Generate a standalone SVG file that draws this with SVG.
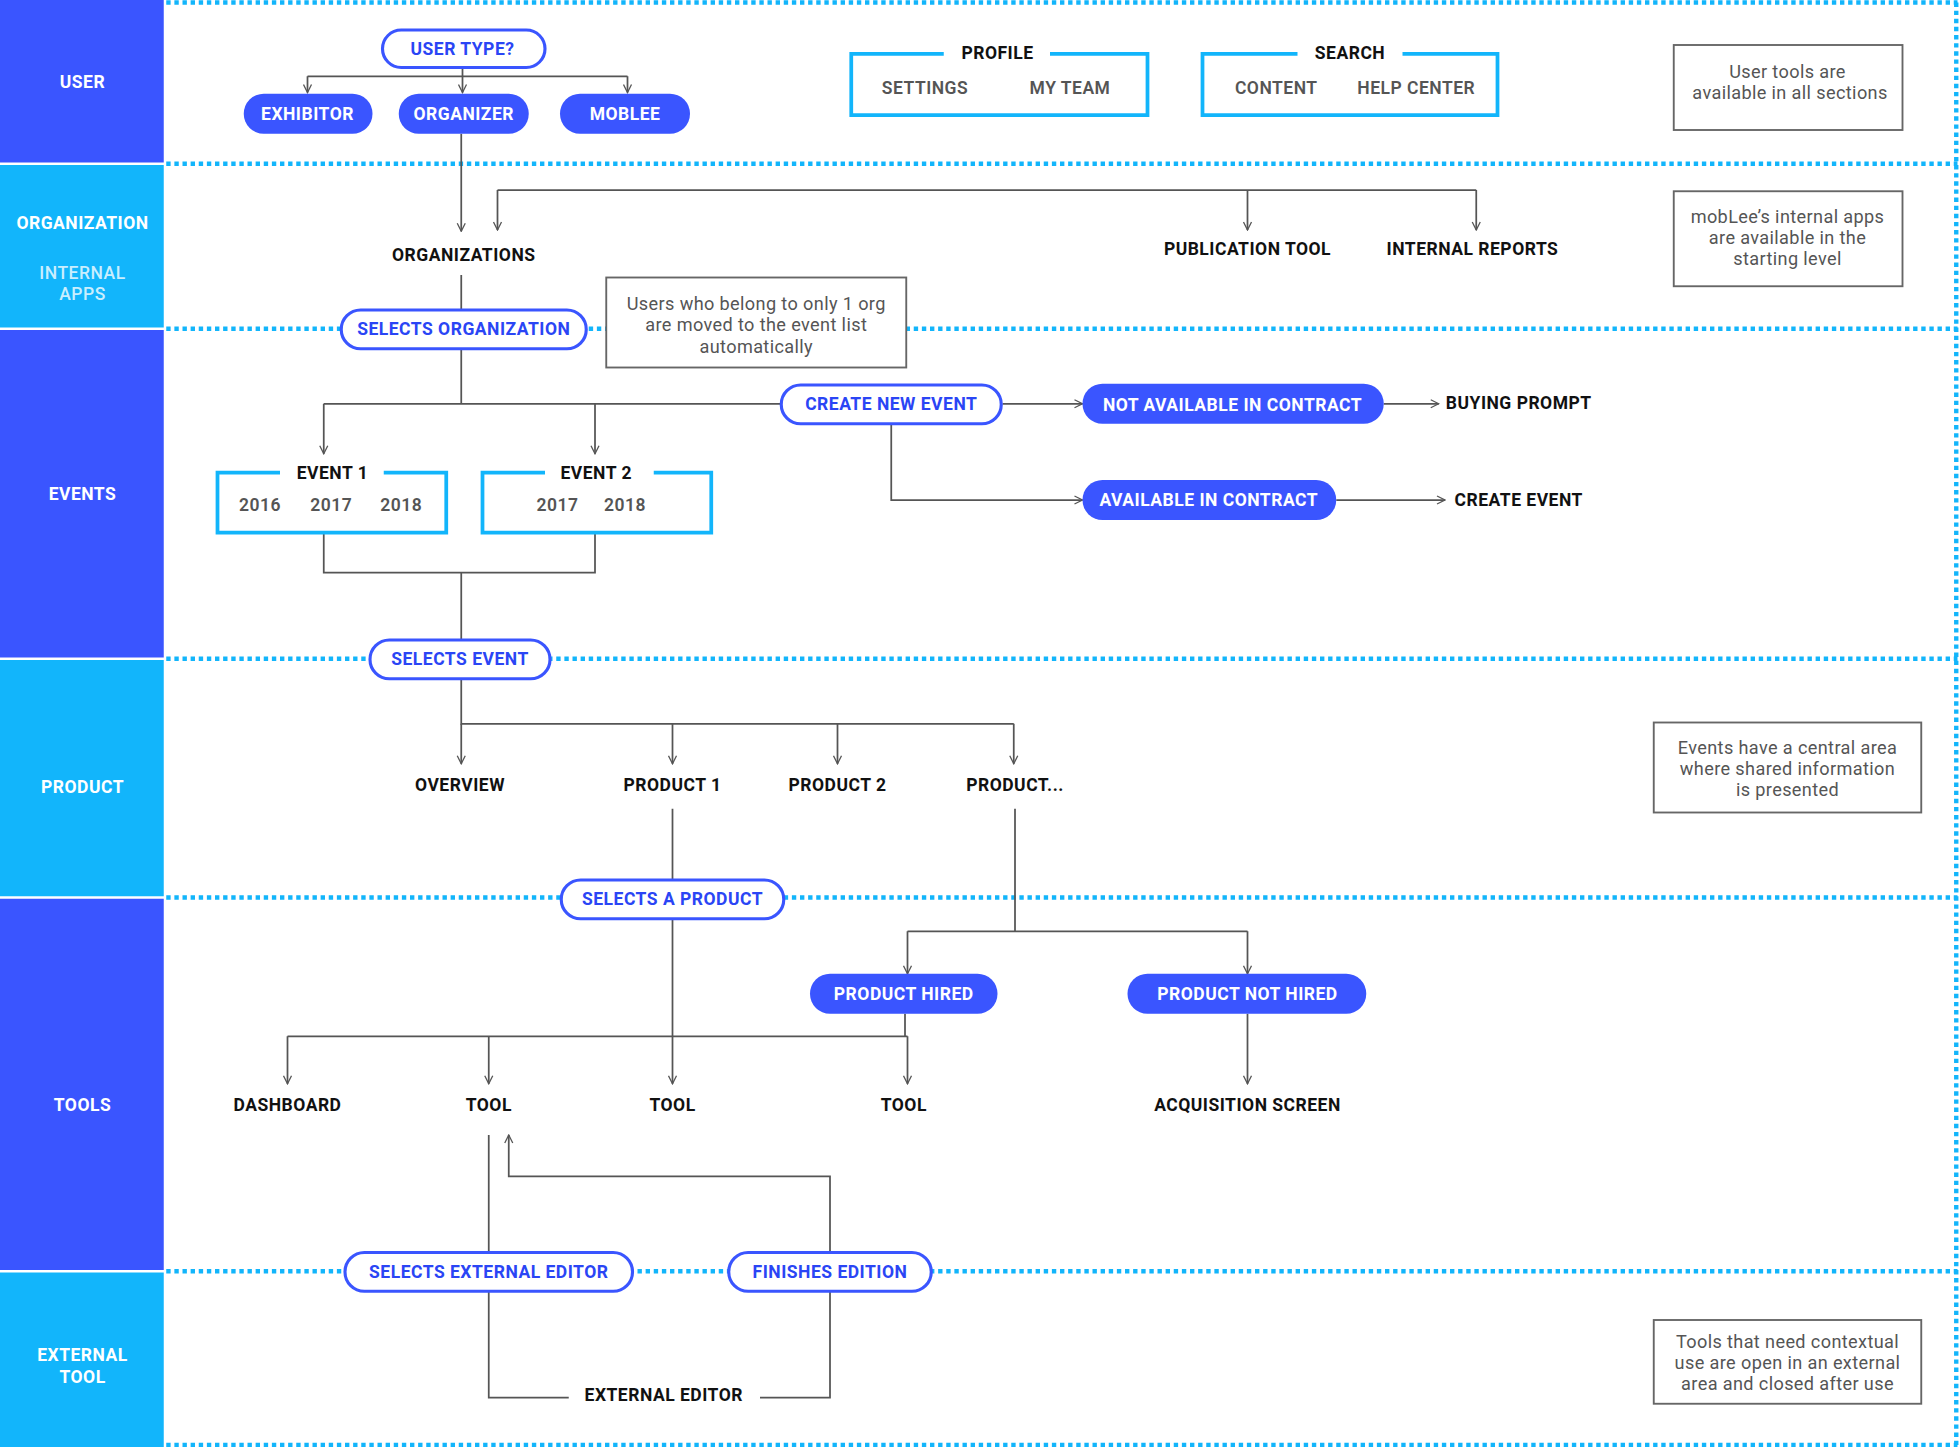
<svg xmlns="http://www.w3.org/2000/svg" width="1960" height="1447" viewBox="0 0 1960 1447">
<style>
text{font-family:"Roboto","Liberation Sans",sans-serif;font-weight:700;font-size:14px;text-anchor:middle;letter-spacing:0.4px}
.lt{fill:#fff}
.sub{fill:#c9eefe;font-weight:500}
.dot{stroke:#12b5fb;stroke-width:3.5;stroke-dasharray:3.5 3;fill:none}
.c{stroke:#555;stroke-width:1.4;fill:none}
.ca{stroke:#555;stroke-width:1.4;fill:none;marker-end:url(#ar)}
.po{fill:#fff;stroke:#3a55ff;stroke-width:2.5}
.pf{fill:#3a55ff}
.tb{fill:#2a45f5}
.tw{fill:#fff}
.tk{fill:#111}
.tg{fill:#555;font-weight:600}
.box{fill:none;stroke:#12b5fb;stroke-width:3}
.note{fill:#fff;stroke:#666;stroke-width:1.5}
.nt{fill:#555;font-weight:400;font-size:14.5px;letter-spacing:0.3px}
</style>
<defs>
<marker id="ar" viewBox="0 0 10 10" refX="9" refY="5" markerWidth="8" markerHeight="8" orient="auto" markerUnits="userSpaceOnUse">
<path d="M1,1 L9,5 L1,9" fill="none" stroke="#555" stroke-width="1.3"/>
</marker>
</defs>
<rect width="1960" height="1447" fill="#fff"/>
<g transform="scale(1.25)">
<g id="lanes">
<rect x="0" y="0" width="131" height="130" fill="#3a55ff"/>
<rect x="0" y="132" width="131" height="130" fill="#12b5fb"/>
<rect x="0" y="264" width="131" height="262" fill="#3a55ff"/>
<rect x="0" y="528" width="131" height="189" fill="#12b5fb"/>
<rect x="0" y="719" width="131" height="297" fill="#3a55ff"/>
<rect x="0" y="1018" width="131" height="140" fill="#12b5fb"/>
<text x="66" y="70" class="lt">USER</text>
<text x="66" y="183" class="lt">ORGANIZATION</text>
<text x="66" y="223" class="sub">INTERNAL</text>
<text x="66" y="240" class="sub">APPS</text>
<text x="66" y="400" class="lt">EVENTS</text>
<text x="66" y="634" class="lt">PRODUCT</text>
<text x="66" y="889" class="lt">TOOLS</text>
<text x="66" y="1089" class="lt">EXTERNAL</text>
<text x="66" y="1106" class="lt">TOOL</text>
<path class="dot" d="M133,2H1566M133,131H1566M133,263H1566M133,527H1566M133,718H1566M133,1017H1566M133,1156H1566M1565,2V1158"/>
</g>
<g id="connectors">
<path class="c" d="M370,54V61M246,61H502"/>
<path class="ca" d="M246,61V74"/><path class="ca" d="M370,61V74"/><path class="ca" d="M502,61V74"/>
<path class="ca" d="M369,107V185"/>
<path class="c" d="M398,152H1181"/>
<path class="ca" d="M398,152V184"/><path class="ca" d="M998,152V184"/><path class="ca" d="M1181,152V184"/>
<path class="c" d="M369,220V248M369,279V323M259,323H625"/>
<path class="ca" d="M259,323V363"/><path class="ca" d="M476,323V363"/>
<path class="ca" d="M802,323H866"/><path class="ca" d="M1107,323H1151"/>
<path class="ca" d="M713,339V400H866"/><path class="ca" d="M1069,400H1156"/>
<path class="c" d="M259,426V458H476V426M369,458V512M369,543V579H811"/>
<path class="ca" d="M369,579V611"/><path class="ca" d="M538,579V611"/><path class="ca" d="M670,579V611"/><path class="ca" d="M811,579V611"/>
<path class="c" d="M538,647V704"/>
<path class="ca" d="M538,735V867"/>
<path class="c" d="M812,647V745M726,745H998"/>
<path class="ca" d="M726,745V779"/><path class="ca" d="M998,745V779"/>
<path class="c" d="M724,811V829M230,829H726"/>
<path class="ca" d="M230,829V867"/><path class="ca" d="M391,829V867"/><path class="ca" d="M726,829V867"/>
<path class="ca" d="M998,811V867"/>
<path class="c" d="M391,908V1002M391,1033V1118H455M608,1118H664V1033"/>
<path class="ca" d="M664,1002V941H407V908"/>
</g>
<g id="n-usertype"><rect class="po" x="306" y="24" width="130" height="30" rx="15"/><text x="370" y="44" class="tb">USER TYPE?</text></g>
<g id="n-exhibitor"><rect class="pf" x="195" y="75" width="103" height="32" rx="16"/><text x="246" y="96" class="tw">EXHIBITOR</text></g>
<g id="n-organizer"><rect class="pf" x="319" y="75" width="104" height="32" rx="16"/><text x="371" y="96" class="tw">ORGANIZER</text></g>
<g id="n-moblee"><rect class="pf" x="448" y="75" width="104" height="32" rx="16"/><text x="500" y="96" class="tw">MOBLEE</text></g>
<g id="n-profile"><path class="box" d="M755,43H681V92H918V43H840"/><text x="798" y="47" class="tk">PROFILE</text><text x="740" y="75" class="tg">SETTINGS</text><text x="856" y="75" class="tg">MY TEAM</text></g>
<g id="n-search"><path class="box" d="M1038,43H962V92H1198V43H1122"/><text x="1080" y="47" class="tk">SEARCH</text><text x="1021" y="75" class="tg">CONTENT</text><text x="1133" y="75" class="tg">HELP CENTER</text></g>
<g id="n-note1"><rect class="note" x="1339" y="36" width="183" height="68"/><text x="1430" y="62" class="nt">User tools are</text><text x="1432" y="79" class="nt">available in all sections</text></g>
<g id="n-organizations"><text x="371" y="209" class="tk">ORGANIZATIONS</text></g>
<g id="n-pubtool"><text x="998" y="204" class="tk">PUBLICATION TOOL</text></g>
<g id="n-intreports"><text x="1178" y="204" class="tk">INTERNAL REPORTS</text></g>
<g id="n-note2"><rect class="note" x="1339" y="153" width="183" height="76"/><text x="1430" y="178" class="nt">mobLee’s internal apps</text><text x="1430" y="195" class="nt">are available in the</text><text x="1430" y="212" class="nt">starting level</text></g>
<g id="n-selorg"><rect class="po" x="273" y="248" width="196" height="31" rx="15.5"/><text x="371" y="268" class="tb">SELECTS ORGANIZATION</text></g>
<g id="n-note3"><rect class="note" x="485" y="222" width="240" height="72"/><text x="605" y="248" class="nt">Users who belong to only 1 org</text><text x="605" y="265" class="nt">are moved to the event list</text><text x="605" y="282" class="nt">automatically</text></g>
<g id="n-createnew"><rect class="po" x="625" y="308" width="176" height="31" rx="15.5"/><text x="713" y="328" class="tb">CREATE NEW EVENT</text></g>
<g id="n-notavail"><rect class="pf" x="866" y="307" width="241" height="32" rx="16"/><text x="986" y="329" class="tw">NOT AVAILABLE IN CONTRACT</text></g>
<g id="n-buying"><text x="1215" y="327" class="tk">BUYING PROMPT</text></g>
<g id="n-avail"><rect class="pf" x="866" y="384" width="203" height="32" rx="16"/><text x="967" y="405" class="tw">AVAILABLE IN CONTRACT</text></g>
<g id="n-createevent"><text x="1215" y="405" class="tk">CREATE EVENT</text></g>
<g id="n-event1"><path class="box" d="M224,378H174V426H357V378H307"/><text x="266" y="383" class="tk">EVENT 1</text><text x="208" y="409" class="tg">2016</text><text x="265" y="409" class="tg">2017</text><text x="321" y="409" class="tg">2018</text></g>
<g id="n-event2"><path class="box" d="M436,378H386V426H569V378H523"/><text x="477" y="383" class="tk">EVENT 2</text><text x="446" y="409" class="tg">2017</text><text x="500" y="409" class="tg">2018</text></g>
<g id="n-selevent"><rect class="po" x="296" y="512" width="144" height="31" rx="15.5"/><text x="368" y="532" class="tb">SELECTS EVENT</text></g>
<g id="n-overview"><text x="368" y="633" class="tk">OVERVIEW</text></g>
<g id="n-product1"><text x="538" y="633" class="tk">PRODUCT 1</text></g>
<g id="n-product2"><text x="670" y="633" class="tk">PRODUCT 2</text></g>
<g id="n-productx"><text x="812" y="633" class="tk">PRODUCT...</text></g>
<g id="n-note4"><rect class="note" x="1323" y="578" width="214" height="72"/><text x="1430" y="603" class="nt">Events have a central area</text><text x="1430" y="620" class="nt">where shared information</text><text x="1430" y="637" class="nt">is presented</text></g>
<g id="n-selproduct"><rect class="po" x="449" y="704" width="178" height="31" rx="15.5"/><text x="538" y="724" class="tb">SELECTS A PRODUCT</text></g>
<g id="n-hired"><rect class="pf" x="648" y="779" width="150" height="32" rx="16"/><text x="723" y="800" class="tw">PRODUCT HIRED</text></g>
<g id="n-nothired"><rect class="pf" x="902" y="779" width="191" height="32" rx="16"/><text x="998" y="800" class="tw">PRODUCT NOT HIRED</text></g>
<g id="n-dashboard"><text x="230" y="889" class="tk">DASHBOARD</text></g>
<g id="n-tool1"><text x="391" y="889" class="tk">TOOL</text></g>
<g id="n-tool2"><text x="538" y="889" class="tk">TOOL</text></g>
<g id="n-tool3"><text x="723" y="889" class="tk">TOOL</text></g>
<g id="n-acq"><text x="998" y="889" class="tk">ACQUISITION SCREEN</text></g>
<g id="n-selext"><rect class="po" x="276" y="1002" width="230" height="31" rx="15.5"/><text x="391" y="1022" class="tb">SELECTS EXTERNAL EDITOR</text></g>
<g id="n-finishes"><rect class="po" x="583" y="1002" width="162" height="31" rx="15.5"/><text x="664" y="1022" class="tb">FINISHES EDITION</text></g>
<g id="n-exteditor"><text x="531" y="1121" class="tk">EXTERNAL EDITOR</text></g>
<g id="n-note5"><rect class="note" x="1323" y="1056" width="214" height="67"/><text x="1430" y="1078" class="nt">Tools that need contextual</text><text x="1430" y="1095" class="nt">use are open in an external</text><text x="1430" y="1112" class="nt">area and closed after use</text></g>
</g>
</svg>
